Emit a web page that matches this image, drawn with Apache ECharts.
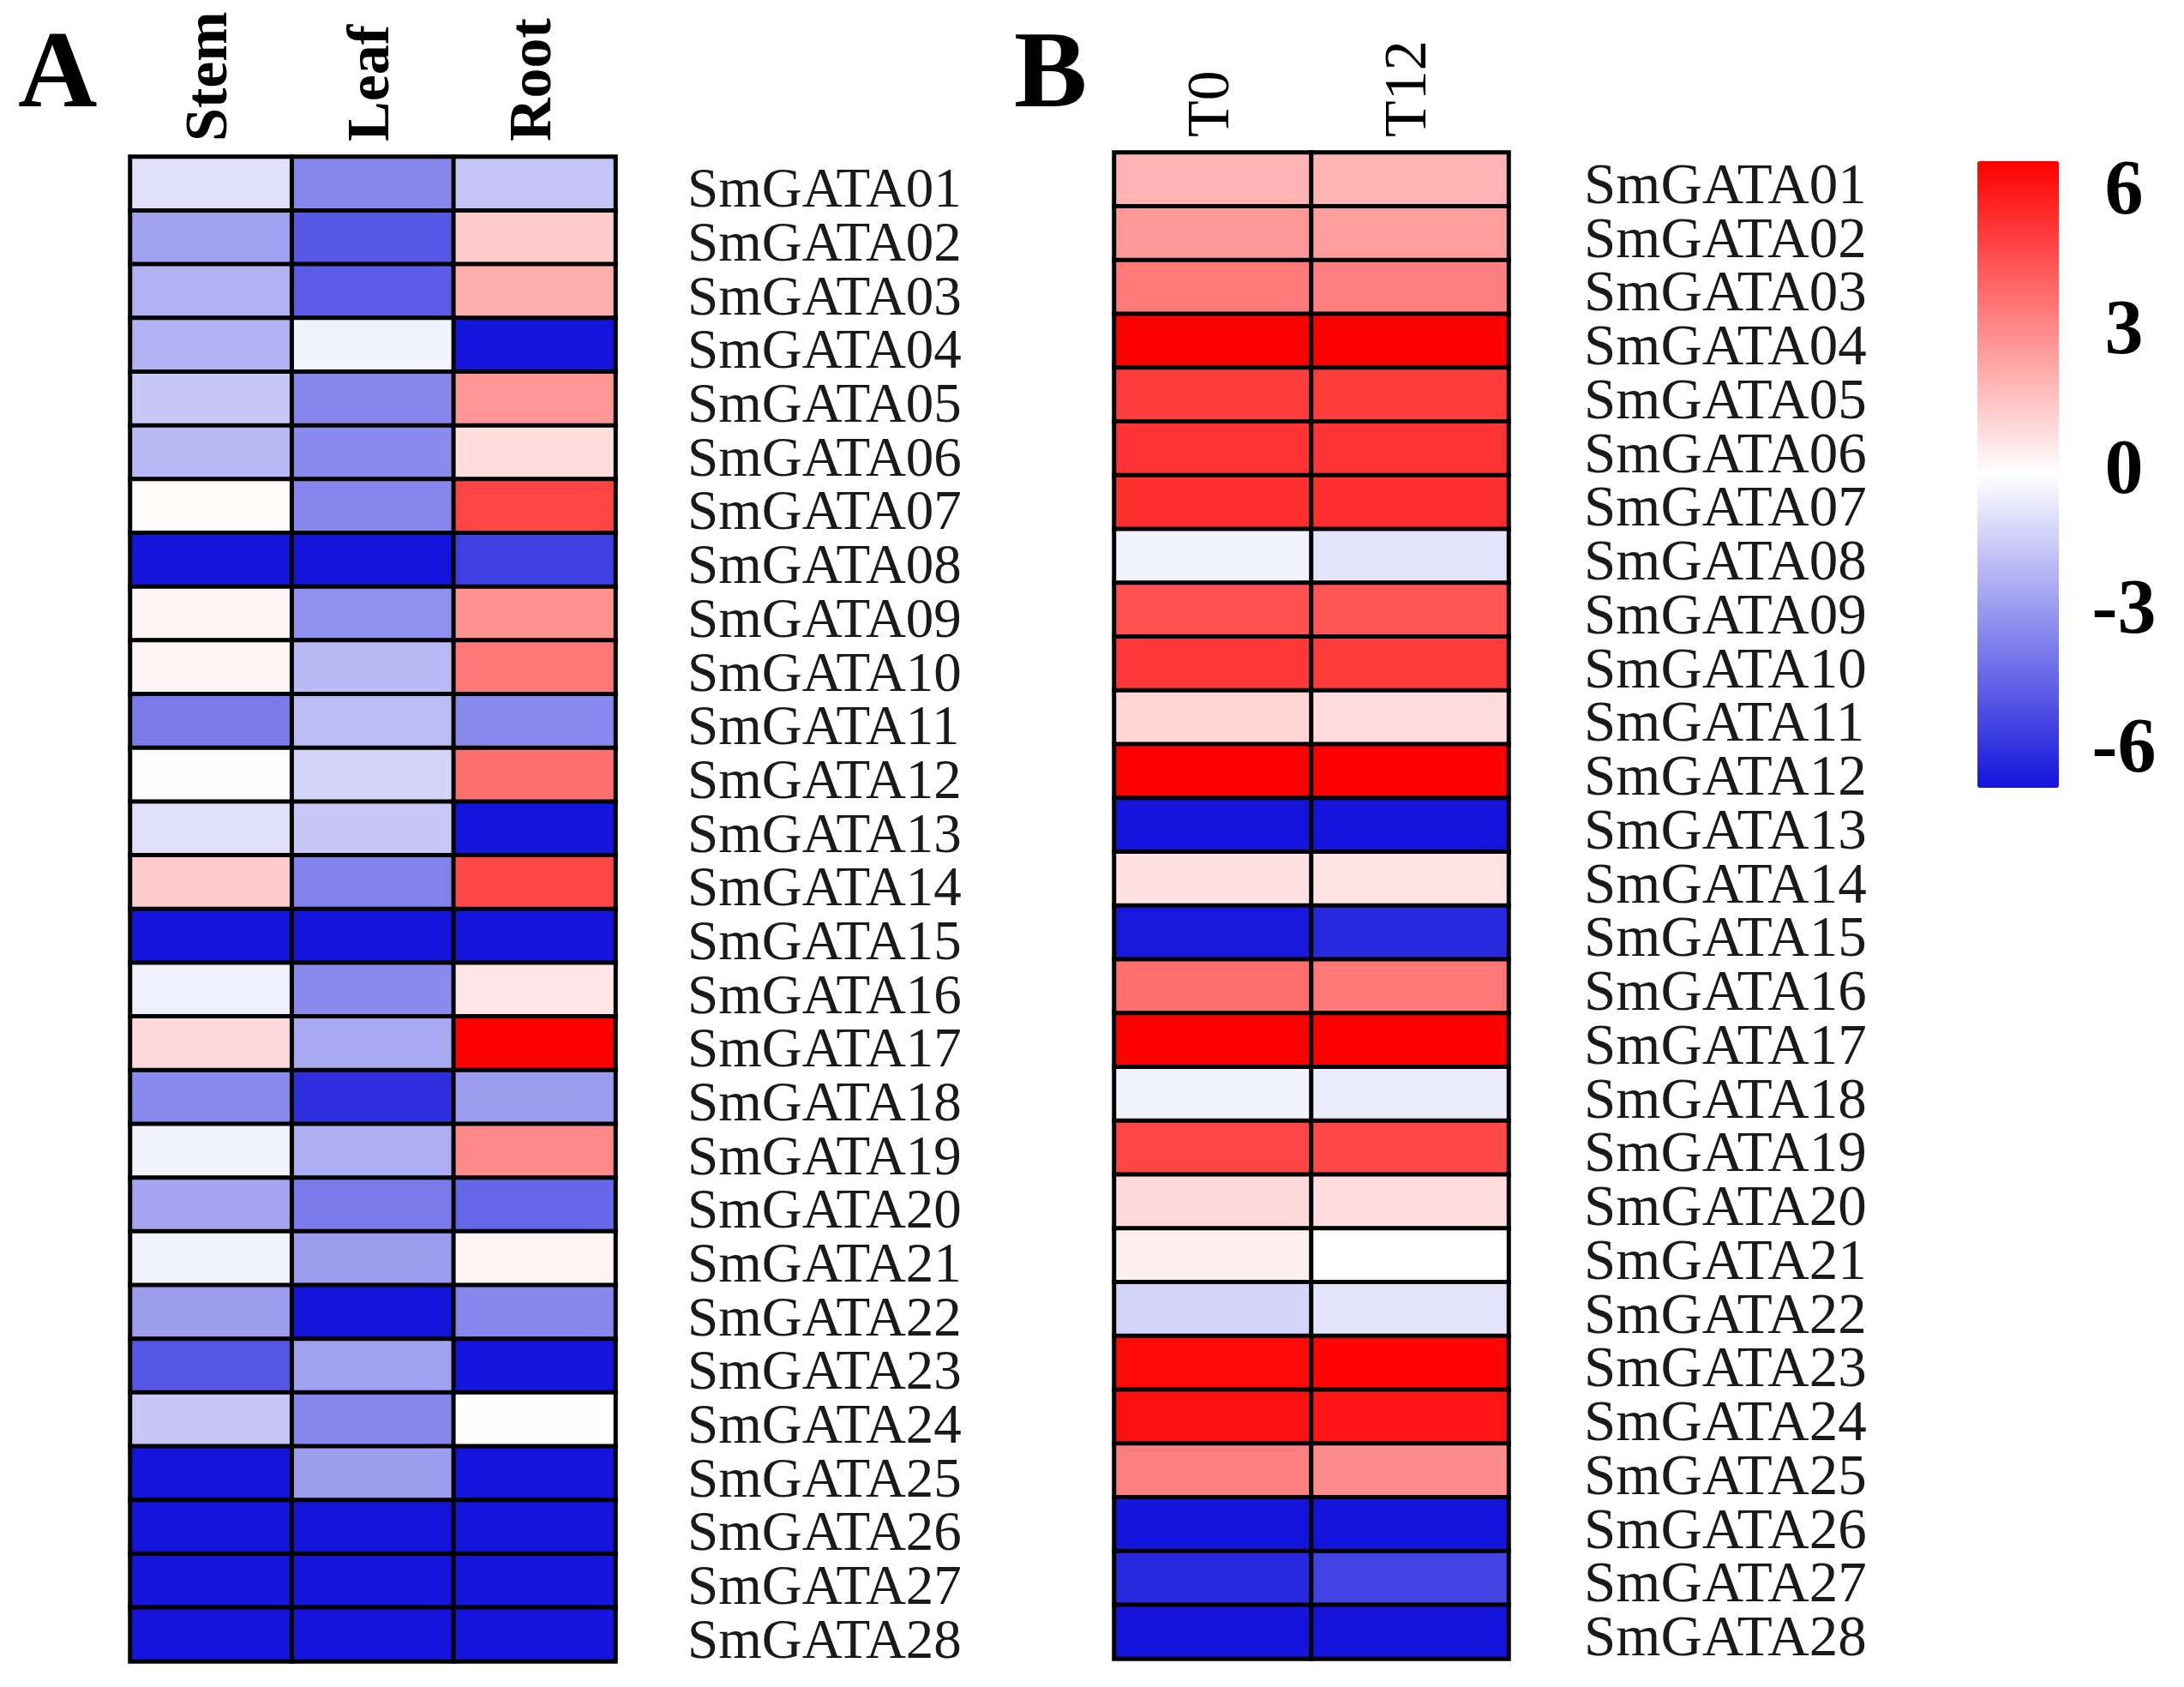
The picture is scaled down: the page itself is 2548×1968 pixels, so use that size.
<!DOCTYPE html>
<html>
<head>
<meta charset="utf-8">
<title>SmGATA expression heatmap</title>
<script src="https://cdn.jsdelivr.net/npm/echarts@6/dist/echarts.min.js"></script>
<style>
  html, body { margin: 0; padding: 0; background: #fff; }
  #chart { width: 2548px; height: 1968px; }
</style>
</head>
<body>
<div id="chart"></div>
<script>
const genes = [
  'SmGATA01', 'SmGATA02', 'SmGATA03', 'SmGATA04', 'SmGATA05', 'SmGATA06', 'SmGATA07',
  'SmGATA08', 'SmGATA09', 'SmGATA10', 'SmGATA11', 'SmGATA12', 'SmGATA13', 'SmGATA14',
  'SmGATA15', 'SmGATA16', 'SmGATA17', 'SmGATA18', 'SmGATA19', 'SmGATA20', 'SmGATA21',
  'SmGATA22', 'SmGATA23', 'SmGATA24', 'SmGATA25', 'SmGATA26', 'SmGATA27', 'SmGATA28'
];
const tissues = ['Stem', 'Leaf', 'Root'];
const stages = ['T0', 'T12'];

// panel A, tissue expression (log2 scale)
const stemVals = [-0.8, -2.4, -2.0, -2.0, -1.4, -1.8, 0.1, -6, 0.2, 0.2, -3.4, 0.05, -0.8, 1.2,
                  -6, -0.4, 0.9, -3.0, -0.3, -2.3, -0.3, -2.5, -4.3, -1.4, -6, -6, -6, -6];
const leafVals = [-3.1, -4.3, -4.2, -0.3, -3.1, -3.0, -3.1, -6, -2.8, -1.8, -1.7, -1.1, -1.4, -3.2,
                  -6, -3.0, -2.2, -5.3, -2.1, -3.4, -2.5, -6, -2.4, -3.1, -2.5, -6, -6, -6];
const rootVals = [-1.5, 1.2, 1.9, -6, 2.5, 0.8, 4.4, -4.9, 2.6, 3.2, -3.0, 3.4, -6, 4.3,
                  -6, 0.6, 6, -2.5, 2.8, -3.9, 0.25, -3.1, -6, 0.05, -6, -6, -6, -6];

// panel B, treatment time points
const t0Vals = [1.8, 2.4, 3.1, 6, 4.6, 4.8, 4.9, -0.3, 4.1, 4.7, 1.0, 6, -6, 0.7,
                -5.9, 3.4, 6, -0.3, 4.4, 0.9, 0.35, -1.1, 5.8, 5.6, 3.0, -6, -5.5, -6];
const t12Vals = [1.75, 2.3, 3.0, 6, 4.6, 4.8, 4.9, -0.7, 4.0, 4.6, 0.8, 6, -6, 0.65,
                 -5.5, 3.2, 6, -0.5, 4.3, 0.8, 0, -0.7, 5.9, 5.5, 2.7, -6, -4.8, -6];

const scaleTicks = [-6, -3, 0, 3, 6];

const chart = echarts.init(document.getElementById('chart'));

function toCells(cols) {
  const out = [];
  cols.forEach((vals, ci) => {
    vals.forEach((v, ri) => out.push([ci, ri, v]));
  });
  return out;
}

const serif = '"Liberation Serif", "Times New Roman", serif';

const colAxis = (cats, gridIndex, bold) => ({
  type: 'category',
  gridIndex: gridIndex,
  data: cats,
  position: 'top',
  axisLine: { show: false },
  axisTick: { show: false },
  splitLine: { show: false },
  axisLabel: {
    rotate: -90,
    margin: 18,
    fontFamily: serif,
    fontSize: 70,
    fontWeight: bold ? 'bold' : 'normal',
    color: '#000'
  }
});

const rowAxis = (gridIndex, size, margin) => ({
  type: 'category',
  gridIndex: gridIndex,
  data: genes,
  inverse: true,
  position: 'right',
  axisLine: { show: false },
  axisTick: { show: false },
  splitLine: { show: false },
  axisLabel: {
    interval: 0,
    margin: margin,
    fontFamily: serif,
    fontSize: size,
    color: '#1a1a1a',
    verticalAlign: 'top',
    lineHeight: 20
  }
});

const cellStyle = { borderColor: '#000', borderWidth: 5 };

const option = {
  backgroundColor: '#fff',
  animation: false,
  title: [
    { text: 'A', left: 16, top: 22, textStyle: { fontFamily: serif, fontSize: 128, fontWeight: 'bold', color: '#000' } },
    { text: 'B', left: 1178, top: 22, textStyle: { fontFamily: serif, fontSize: 128, fontWeight: 'bold', color: '#000' } }
  ],
  grid: [
    { left: 152, top: 183, width: 566, height: 1755 },
    { left: 1300, top: 178, width: 460, height: 1757 },
    { left: 2478, top: 226, width: 10, height: 651, show: false }
  ],
  xAxis: [
    colAxis(tissues, 0, true),
    colAxis(stages, 1, false),
    { type: 'value', gridIndex: 2, show: false }
  ],
  yAxis: [
    rowAxis(0, 65, 84),
    rowAxis(1, 67, 88),
    {
      type: 'value',
      gridIndex: 2,
      min: -6,
      max: 6,
      interval: 3,
      position: 'left',
      axisLine: { show: false },
      axisTick: { show: false },
      splitLine: { show: false },
      axisLabel: {
        margin: 0,
        align: 'center',
        fontFamily: serif,
        fontSize: 90,
        fontWeight: 'bold',
        color: '#000',
        customValues: scaleTicks
      }
    }
  ],
  visualMap: {
    type: 'continuous',
    min: -6,
    max: 6,
    seriesIndex: [0, 1],
    calculable: false,
    orient: 'vertical',
    left: 2307,
    top: 188,
    itemWidth: 95,
    itemHeight: 731,
    padding: 0,
    text: null,
    showLabel: false,
    inRange: { color: ['#1414dc', '#ffffff', '#ff0000'] }
  },
  series: [
    {
      type: 'heatmap',
      xAxisIndex: 0,
      yAxisIndex: 0,
      data: toCells([stemVals, leafVals, rootVals]),
      itemStyle: cellStyle
    },
    {
      type: 'heatmap',
      xAxisIndex: 1,
      yAxisIndex: 1,
      data: toCells([t0Vals, t12Vals]),
      itemStyle: cellStyle
    }
  ]
};

chart.setOption(option);
</script>
</body>
</html>
